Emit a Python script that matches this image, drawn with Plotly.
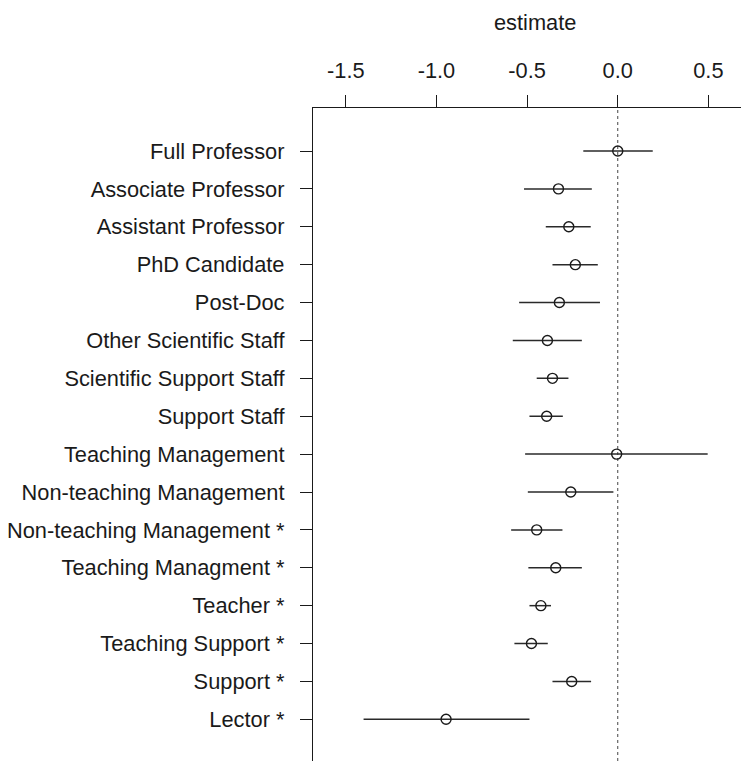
import plotly.graph_objects as go

categories = [
    "Full Professor", "Associate Professor", "Assistant Professor", "PhD Candidate",
    "Post-Doc", "Other Scientific Staff", "Scientific Support Staff", "Support Staff",
    "Teaching Management", "Non-teaching Management", "Non-teaching Management *",
    "Teaching Managment *", "Teacher *", "Teaching Support *", "Support *", "Lector *",
]
estimate = [0.0, -0.327, -0.270, -0.234, -0.322, -0.388, -0.360, -0.392,
            -0.006, -0.259, -0.447, -0.342, -0.424, -0.476, -0.254, -0.947]
ci_low = [-0.190, -0.517, -0.397, -0.360, -0.544, -0.579, -0.447, -0.487,
          -0.511, -0.496, -0.588, -0.493, -0.487, -0.570, -0.360, -1.402]
ci_high = [0.193, -0.143, -0.149, -0.110, -0.098, -0.198, -0.272, -0.303,
           0.496, -0.024, -0.305, -0.198, -0.368, -0.386, -0.147, -0.487]
x_ticks = [-1.5, -1.0, -0.5, 0.0, 0.5]
x_ticklabels = ["-1.5", "-1.0", "-0.5", "0.0", "0.5"]

ink = "#1a1a1a"
font = dict(family="Liberation Sans, Arial, sans-serif", size=21.8, color=ink)

fig = go.Figure()
fig.add_trace(go.Scatter(
    x=estimate, y=categories, mode="markers",
    marker=dict(symbol="circle-open", size=10, color=ink, line=dict(width=1.4, color=ink)),
    error_x=dict(type="data", symmetric=False,
                 array=[h - e for h, e in zip(ci_high, estimate)],
                 arrayminus=[e - l for e, l in zip(estimate, ci_low)],
                 width=0, thickness=1.5, color="#2a2a2a"),
    showlegend=False, cliponaxis=False,
))

fig.add_shape(type="line", xref="x", yref="paper", x0=0, x1=0, y0=0, y1=1,
              line=dict(color="#444444", width=1, dash="dot"), layer="below")

fig.update_layout(
    width=741, height=753,
    margin=dict(l=305, r=0, t=100, b=0, pad=0),
    paper_bgcolor="white", plot_bgcolor="white",
    font=font,
    xaxis=dict(
        side="top", range=[-1.681, 0.724], autorange=False,
        tickvals=x_ticks, ticktext=x_ticklabels,
        ticks="outside", ticklen=12, tickwidth=1.3, tickcolor=ink,
        showline=True, linecolor=ink, linewidth=1.3,
        showgrid=False, zeroline=False, tickfont=font, ticklabelstandoff=8,
    ),
    yaxis=dict(
        type="category", categoryorder="array", categoryarray=categories,
        range=[16.1, -1.135], autorange=False,
        ticks="outside", ticklen=12, tickwidth=1.3, tickcolor=ink,
        showline=True, linecolor=ink, linewidth=1.3,
        showgrid=False, zeroline=False, tickfont=font, ticklabelstandoff=11,
    ),
    annotations=[dict(text="estimate", xref="paper", yref="paper",
                      x=0.509, y=1.0, yshift=86, showarrow=False,
                      xanchor="center", yanchor="middle", font=font)],
)

fig.write_html("out.html")
